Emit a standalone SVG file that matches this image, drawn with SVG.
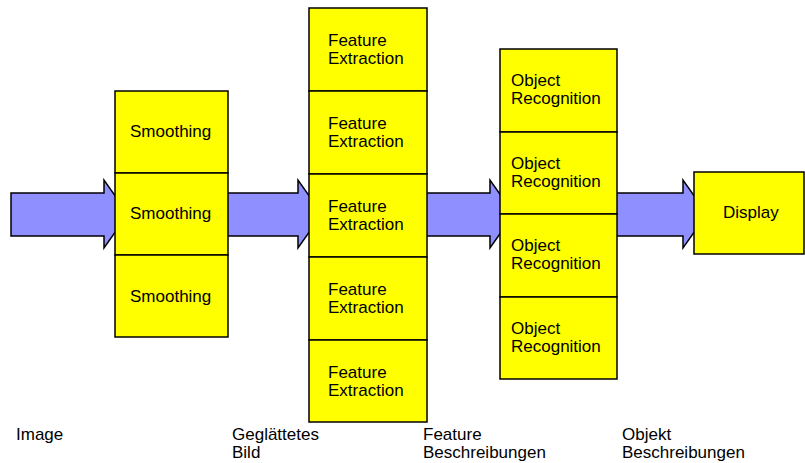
<svg xmlns="http://www.w3.org/2000/svg" width="805" height="463" viewBox="0 0 805 463">
  <style>
    .box { fill: #ffff00; stroke: #000; stroke-width: 1.5; }
    .flow { fill: #8f8fff; stroke: #000; stroke-width: 1.5; stroke-linejoin: miter; }
    text { font-family: "Liberation Sans", Arial, sans-serif; font-size: 17px; fill: #000; }
  </style>
  <rect width="805" height="463" fill="#fff"/>

  <!-- block arrows between stages, drawn beneath the boxes -->
  <g id="connectors">
    <path class="flow" d="M11,193 H104 V180 L128,214 L104,248 V236 H11 Z"/>
    <path class="flow" d="M220,193 H298 V180 L322,214 L298,248 V236 H220 Z"/>
    <path class="flow" d="M420,193 H490 V180 L514,214 L490,248 V236 H420 Z"/>
    <path class="flow" d="M610,193 H683 V180 L707,214 L683,248 V236 H610 Z"/>
  </g>

  <!-- smoothing stage -->
  <g id="smoothing-1"><rect class="box" x="115" y="91" width="113" height="82"/><text x="130" y="137">Smoothing</text></g>
  <g id="smoothing-2"><rect class="box" x="115" y="173" width="113" height="82"/><text x="130" y="219">Smoothing</text></g>
  <g id="smoothing-3"><rect class="box" x="115" y="255" width="113" height="82"/><text x="130" y="302">Smoothing</text></g>

  <!-- feature extraction stage -->
  <g id="feature-1"><rect class="box" x="309" y="8" width="118" height="83"/><text x="328" y="46">Feature<tspan x="328" dy="18">Extraction</tspan></text></g>
  <g id="feature-2"><rect class="box" x="309" y="91" width="118" height="83"/><text x="328" y="129">Feature<tspan x="328" dy="18">Extraction</tspan></text></g>
  <g id="feature-3"><rect class="box" x="309" y="174" width="118" height="83"/><text x="328" y="212">Feature<tspan x="328" dy="18">Extraction</tspan></text></g>
  <g id="feature-4"><rect class="box" x="309" y="257" width="118" height="83"/><text x="328" y="295">Feature<tspan x="328" dy="18">Extraction</tspan></text></g>
  <g id="feature-5"><rect class="box" x="309" y="340" width="118" height="82"/><text x="328" y="378">Feature<tspan x="328" dy="18">Extraction</tspan></text></g>

  <!-- object recognition stage -->
  <g id="object-1"><rect class="box" x="500" y="49" width="117" height="83"/><text x="511" y="86">Object<tspan x="511" dy="18">Recognition</tspan></text></g>
  <g id="object-2"><rect class="box" x="500" y="132" width="117" height="82"/><text x="511" y="168.5">Object<tspan x="511" dy="18">Recognition</tspan></text></g>
  <g id="object-3"><rect class="box" x="500" y="214" width="117" height="83"/><text x="511" y="251">Object<tspan x="511" dy="18">Recognition</tspan></text></g>
  <g id="object-4"><rect class="box" x="500" y="297" width="117" height="82"/><text x="511" y="333.5">Object<tspan x="511" dy="18">Recognition</tspan></text></g>

  <!-- output -->
  <g id="display"><rect class="box" x="694" y="172" width="110" height="82"/><text x="723" y="218">Display</text></g>

  <!-- data labels under each stage -->
  <g id="labels">
    <text x="16" y="440">Image</text>
    <text x="232" y="440">Geglättetes<tspan x="232" dy="18">Bild</tspan></text>
    <text x="423" y="440">Feature<tspan x="423" dy="18">Beschreibungen</tspan></text>
    <text x="622" y="440">Objekt<tspan x="622" dy="18">Beschreibungen</tspan></text>
  </g>
</svg>
